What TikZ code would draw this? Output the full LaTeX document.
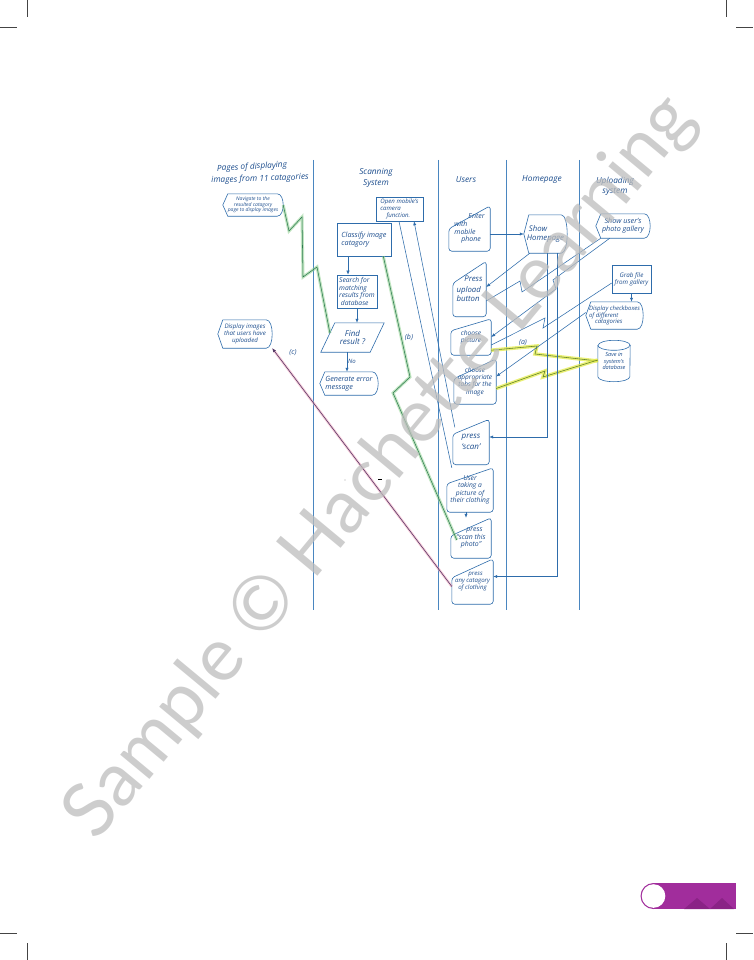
\documentclass[tikz,border=0pt]{standalone}
\usepackage{fontspec}
\setmainfont{Open Sans}
\newfontfamily\wmfont{Lato}
\usetikzlibrary{arrows.meta,calc}
\definecolor{lane}{HTML}{4A86C0}
\definecolor{ink}{HTML}{2E6CAB}
\definecolor{txt}{HTML}{1D4E8E}
\definecolor{hlgreen}{HTML}{8ED08E}
\definecolor{lngreen}{HTML}{2F7A52}
\definecolor{hlyellow}{HTML}{E4EC4A}
\definecolor{lnyellow}{HTML}{5E7F25}
\definecolor{hlpink}{HTML}{F2A6BE}
\definecolor{lnpink}{HTML}{4E3562}
\definecolor{tabpurple}{HTML}{A12D9C}
\definecolor{tabdark}{HTML}{8A2386}
\definecolor{wmgray}{HTML}{BDBDBD}
\definecolor{crop}{HTML}{444444}
\newcommand\fsz[1]{\fontsize{#1}{#1}\selectfont\baselineskip=1.12\baselineskip}
\newcommand\dispframe[1]{\draw[shp] (#1.west) -- ([xshift=5pt]#1.north west) -- ([xshift=-6pt]#1.north east) .. controls ([xshift=2pt]#1.north east) and ([xshift=2pt]#1.south east) .. ([xshift=-6pt]#1.south east) -- ([xshift=5pt]#1.south west) -- cycle;}
\newcommand\manframe[2]{\draw[shp,rounded corners=3pt] (#1.south west) -- ([yshift=-#2pt]#1.north west) -- (#1.north east) -- (#1.south east) -- cycle;}
\begin{document}
\begin{tikzpicture}[x=1pt,y=-1pt,
  shp/.style={draw=ink,line width=0.6pt},
  lbl/.style={text=txt,font=\itshape\fsz{7}},
  box/.style={inner sep=0pt,align=center,text=txt,font=\itshape\fsz{6}},
  rbox/.style={box,draw=ink,line width=0.6pt},
  lanehead/.style={text=txt,font=\itshape\fsz{8.3},align=center,inner sep=0pt},
  conn/.style={draw=ink,line width=0.55pt},
  arr/.style={conn,-{Latex[length=4pt,width=3.2pt]}},
  greenln/.style={draw=lngreen,line width=0.55pt,preaction={draw=hlgreen,line width=3pt,opacity=0.55}},
  yellowln/.style={draw=lnyellow,line width=0.55pt,preaction={draw=hlyellow,line width=3.5pt,opacity=0.75}},
  pinkln/.style={draw=lnpink,line width=0.55pt,preaction={draw=hlpink,line width=2.5pt,opacity=0.6},-{Latex[length=4pt,width=3.2pt]}},
  cropln/.style={draw=crop,line width=0.6pt}]
\useasboundingbox (0,0) rectangle (753,960);
\fill[white] (0,0) rectangle (753,960);
% crop marks
\draw[cropln] (27,0) -- (27,17); \draw[cropln] (0,27) -- (17,27);
\draw[cropln] (726,0) -- (726,17); \draw[cropln] (736,27) -- (753,27);
\draw[cropln] (27,943) -- (27,960); \draw[cropln] (0,933) -- (17,933);
\draw[cropln] (726,943) -- (726,960); \draw[cropln] (736,933) -- (753,933);
% swimlanes
\foreach \x in {313,438,506,579} \draw[draw=lane,line width=0.7pt] (\x,160) -- (\x,610);
\node[lanehead,rotate=3] (h1a) at (252,167) {Pages of displaying};
\node[lanehead,rotate=2] (h1b) at (260,179) {images from 11 catagories};
\node[lanehead] (h2) at (376,178) {Scanning\\[1pt]System};
\node[lanehead] (h3) at (466,180) {Users};
\node[lanehead] (h4) at (542,180) {Homepage};
\node[lanehead] (h5) at (615,186) {Uploading\\[1pt]system};
% nodes: pages lane
\node[box,minimum width=60pt,minimum height=22pt,font=\itshape\fsz{5}] (nav) at (253,205) {Navigate to the\\resulted catagory\\page to display images};
\dispframe{nav}
\node[box,minimum width=54pt,minimum height=28pt,font=\itshape\fsz{6.2}] (disp) at (245,334) {Display images\\that users have\\uploaded};
\dispframe{disp}
% scanning lane
\node[rbox,minimum width=47pt,minimum height=24pt,align=left,font=\itshape\fsz{6.1}] (cam) at (399.5,209) {Open mobile's\\camera\\\quad function.};
\node[rbox,minimum width=54pt,minimum height=33pt,align=left,font=\itshape\fsz{7.2}] (cls) at (364,239.5) {Classify image\\catagory};
\node[rbox,minimum width=40pt,minimum height=33pt,align=left,font=\itshape\fsz{6.7}] (srch) at (357,291.5) {Search for\\matching\\results from\\\ database};
\node[box,minimum width=63pt,minimum height=29pt,font=\itshape\fsz{8}] (find) at (352.5,337.5) {Find\\result ?};
\draw[shp] ([xshift=14pt]find.north west) -- (find.north east) -- ([xshift=-14pt]find.south east) -- (find.south west) -- cycle;
\node[box,minimum width=58pt,minimum height=23pt,align=left,font=\itshape\fsz{7.2}] (err) at (349,383.5) {Generate error\\message};
\dispframe{err}
% users lane
\node[box,minimum width=41pt,minimum height=45pt,align=left,font=\itshape\fsz{7}] (enter) at (469.5,228.5) {\hspace{14pt}Enter\\with\\mobile\\\quad phone};
\manframe{enter}{23}
\node[box,minimum width=33pt,minimum height=55pt,align=left,font=\itshape\fsz{7.8}] (upl) at (469.5,289) {\quad Press\\[2pt]upload\\[1pt]button};
\manframe{upl}{22}
\node[box,minimum width=40pt,minimum height=36pt,font=\itshape\fsz{6.6}] (pic) at (471,337) {choose\\picture};
\manframe{pic}{12}
\node[box,minimum width=42pt,minimum height=45pt,font=\itshape\fsz{6.5}] (tabs) at (475,381.5) {choose\\appropriate\\tabs for the\\image};
\manframe{tabs}{20}
\node[box,minimum width=36pt,minimum height=45pt,font=\itshape\fsz{8}] (scan) at (471,442) {press\\[2pt]`scan'};
\manframe{scan}{15}
\node[box,minimum width=46pt,minimum height=44pt,font=\itshape\fsz{6.7}] (take) at (470,490) {User\\taking a\\picture of\\their clothing};
\manframe{take}{16}
\node[box,minimum width=40pt,minimum height=40pt,font=\itshape\fsz{6.9}] (sphoto) at (471,538) {\quad press\\``scan this\\photo''};
\manframe{sphoto}{18}
\node[box,minimum width=41pt,minimum height=45pt,font=\itshape\fsz{6.1}] (anycat) at (472.5,581.5) {\quad press\\any catagory\\of clothing};
\manframe{anycat}{19}
% homepage lane
\node[box,minimum width=43pt,minimum height=38pt,align=left,font=\itshape\fsz{7.8}] (home) at (545.5,234) {\ Show\\Homepage};
\dispframe{home}
% uploading lane
\node[box,minimum width=54pt,minimum height=24pt,font=\itshape\fsz{7.2}] (gal) at (623,226) {Show user's\\photo gallery};
\dispframe{gal}
\node[rbox,minimum width=39pt,minimum height=28pt,font=\itshape\fsz{6.3}] (grab) at (631.5,279) {Grab file\\from gallery};
\node[box,minimum width=57pt,minimum height=27pt,align=left,font=\itshape\fsz{6}] (chk) at (614.5,315.5) {Display checkboxes\\of different\\\quad catagories};
\dispframe{chk}
\node[box,minimum width=32pt,minimum height=41pt,font=\itshape\fsz{5.6}] (save) at (614,361) {Save in\\system's\\database};
\draw[shp] ([yshift=-5pt]save.north west) -- ([yshift=5pt]save.south west) arc[start angle=180,end angle=360,x radius=16pt,y radius=5pt] -- ([yshift=-5pt]save.north east) arc[start angle=0,end angle=180,x radius=16pt,y radius=5pt];
\draw[shp] ([yshift=-5pt]save.north west) arc[start angle=180,end angle=360,x radius=16pt,y radius=5pt];
% labels
\node[lbl,font=\itshape\fsz{6}] (lno) at (352,361) {No};
\node[lbl] (lb) at (409,337) {(b)};
\node[lbl] (lc) at (293,353) {(c)};
\node[lbl] (la) at (523,343) {(a)};
% scanning connectors
\draw[arr] (cls.south -| 348,0) -- (srch.north -| 348,0);
\draw[arr] (srch.south -| 357,0) -- ([xshift=4.5pt]find.north);
\draw[arr] (find.south -| 347,0) -- (err.north -| 347,0);
\draw[conn] ([xshift=-0.5pt]cam.south) -- ([xshift=5pt]take.north west);
\draw[arr] ([xshift=2pt,yshift=-8pt]scan.north west) -- ([xshift=14.5pt]cam.south);
% highlighted connectors
\coordinate (findL) at ($([xshift=14pt]find.north west)!0.35!(find.south west)$);
\draw[greenln] (nav.east) -- (289,231) -- (302,217) -- (303,277) -- (317,267) -- (findL);
\draw[greenln] ([xshift=-8pt]cls.south east) -- (410,377) -- (393,393) -- ([xshift=6pt,yshift=-2pt]sphoto.west);
\draw[yellowln] ([yshift=5pt]pic.south east) -- (537,346) -- (535,354) -- (save.west);
\draw[yellowln] ([yshift=-7pt]tabs.east) -- (545,371) -- (543,377) -- ([yshift=1pt]save.west);
\draw[pinkln] ([yshift=-5pt]anycat.west) -- (disp.south east);
% users/homepage/upload connectors
\draw[arr] (enter.east |- home.west) -- (home.west);
\draw[arr] ([xshift=6pt]home.south west) -- ([yshift=2pt]upl.east);
\draw[conn] ([yshift=-12pt]upl.east) -- (520,281) -- (522,292) -- ([xshift=5pt]gal.south west);
\draw[arr] ([xshift=14pt]gal.south west) -- (553,280) -- (556,289) -- (pic.east);
\draw[conn] ([yshift=-8pt]pic.east) -- (545,318) -- (543,328) -- ([yshift=-4pt]grab.west);
\draw[arr] (grab.south) -- (chk.north -| grab.south);
\draw[arr] ([yshift=3pt]chk.west) -- ([yshift=5pt]tabs.east);
\draw[arr] ([xshift=1.5pt]home.south) |- ([yshift=5pt]scan.east);
\draw[arr] ([xshift=11.5pt]home.south) |- ([yshift=5pt]anycat.east);
\draw[arr] ([xshift=-4pt]take.south) -- ([xshift=-5pt]sphoto.north);
% tiny marks
\fill[black] (345,480) circle (0.4);
\draw[black,line width=0.5pt] (378,479) -- (382,479);
% page tab
\fill[tabpurple] (653,883) rectangle (736,909);
\fill[tabdark] (684,909) -- (697,898) -- (710,909) -- cycle;
\fill[tabdark] (710,909) -- (722,898) -- (734,909) -- cycle;
\fill[tabpurple] (653.5,896) circle (13);
\fill[white] (653.5,896) circle (11.8);
% watermark
\node[rotate=50.3,text=wmgray,opacity=0.75,font=\wmfont\fsz{75},inner sep=0pt] (wm) at (381,468) {Sample © Hachette Learning};
\end{tikzpicture}
\end{document}
